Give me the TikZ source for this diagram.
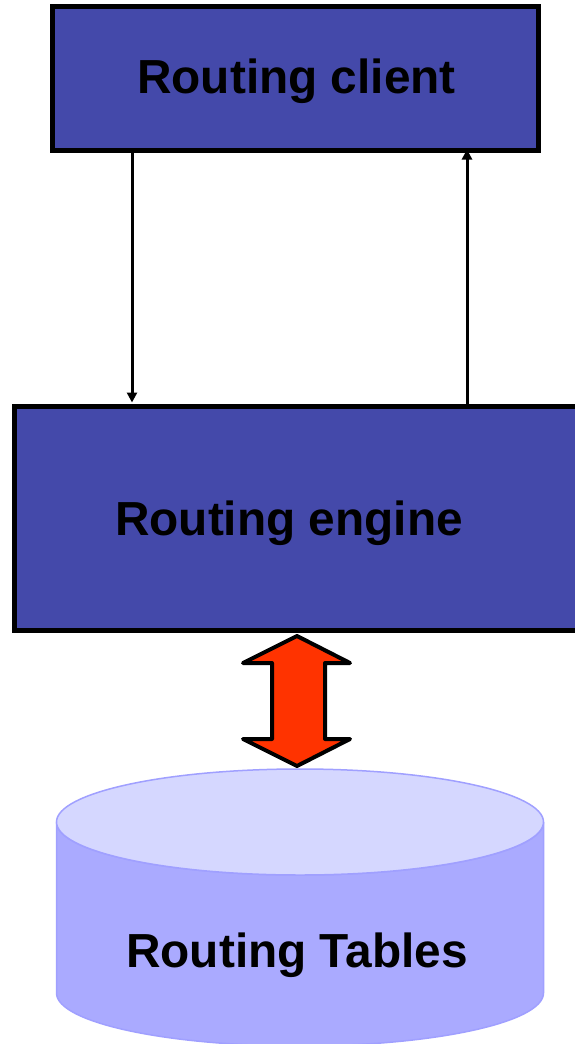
\documentclass[tikz,border=0pt]{standalone}
\usepackage{fontspec}
\setmainfont{Liberation Sans}
\usetikzlibrary{arrows.meta}
\definecolor{boxblue}{HTML}{4449AA}
\definecolor{cylside}{HTML}{AAAAFF}
\definecolor{cyltop}{HTML}{D5D7FF}
\definecolor{cylline}{HTML}{A0A0FF}
\definecolor{arrred}{HTML}{FF3300}
\tikzset{
  bluebox/.style={draw=black, line width=5pt, fill=boxblue, inner sep=0pt, outer sep=0pt},
  lbl/.style={font=\bfseries\fontsize{47.8}{52}\selectfont, text=black, anchor=base, inner sep=0pt},
  flow/.style={draw=black, line width=3pt, -{Triangle[width=10pt,length=10pt]}},
  bigarrow/.style={draw=black, line width=4pt, fill=arrred, line join=round},
}
\begin{document}
\begin{tikzpicture}[x=1pt, y=-1pt]
\clip (0,0) rectangle (575,1044);
\fill[white] (0,0) rectangle (575,1044);
% boxes
\node[bluebox, minimum width=486pt, minimum height=144pt] (client) at (295.5,78.5) {};
\node[lbl] (clientlbl) at (296.5,93) {Routing client};
\node[bluebox, minimum width=590pt, minimum height=224pt] (engine) at (309.5,518.5) {};
\node[lbl] (enginelbl) at (289,535) {Routing engine};
% flows
\draw[flow, shorten >=4pt] ([xshift=-163.5pt]client.south) -- ([xshift=-177.5pt]engine.north);
\draw[flow, shorten >=-1pt] ([xshift=157.5pt]engine.north) -- ([xshift=171.5pt]client.south);
% cylinder
\path[fill=cylside, draw=cylline, line width=1.5pt]
  (56.5,822) -- (56.5,993) arc[start angle=180, end angle=360, x radius=243.5pt, y radius=53pt]
  -- (543.5,822) arc[start angle=0, end angle=180, x radius=243.5pt, y radius=-53pt] -- cycle;
\path[fill=cyltop, draw=cylline, line width=1.5pt] (300,822) ellipse[x radius=243.5pt, y radius=53pt];
\node[lbl] (tables) at (297,967.5) {Routing Tables};
% double arrow between engine and tables
\path[bigarrow] (297,636) -- (350,663) -- (325,663) -- (325,739) -- (350,739) -- (297,766)
  -- (243,739) -- (272,739) -- (272,663) -- (243,663) -- cycle;
\end{tikzpicture}
\end{document}
